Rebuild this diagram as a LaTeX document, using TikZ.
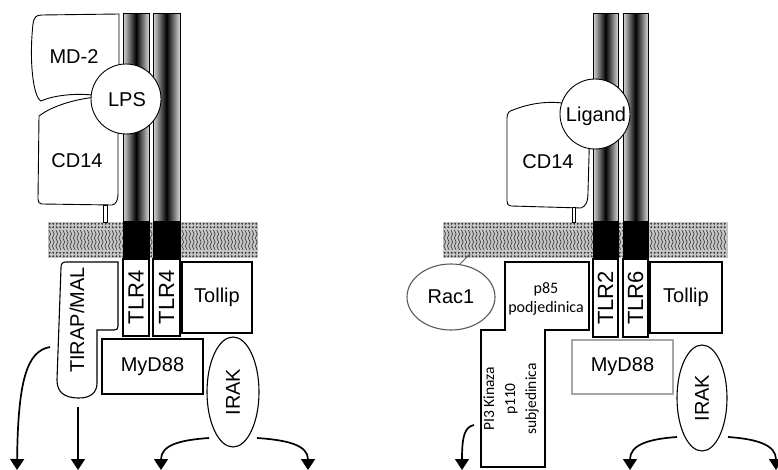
\documentclass[tikz,border=0pt]{standalone}
\usepackage{fontspec}
\setmainfont{Liberation Sans}
\newfontfamily\calib{Carlito}
\usetikzlibrary{shapes.geometric,arrows.meta}
\begin{document}
\begin{tikzpicture}[x=1pt,y=-1pt,
  lbl/.style={font=\fontsize{20}{24}\selectfont, inner sep=0pt},
  tlr/.style={font=\fontsize{22}{24}\selectfont, inner sep=0pt, rotate=90},
  box/.style={draw, line width=1.1pt, fill=white, rectangle, inner sep=0pt},
  graybox/.style={box, draw=gray!70},
  shp/.style={draw, line width=0.9pt, fill=white},
  col/.style={draw, line width=1pt, left color=gray!30, right color=gray!30, middle color=black},
  sig/.style={line width=1.7pt, -{Triangle[width=14pt,length=11pt]}},
  head/.style={draw=gray!25, line width=0.4pt, fill=black!80},
  tail/.style={draw=black!75, line width=0.7pt},
]
\useasboundingbox (0,0) rectangle (778,470);

% ---------- membranes ----------
\fill[gray!45] (48,222) rectangle (258,258);
\foreach \x in {49.75,53.25,...,257}{
  \draw[tail] plot[domain=230:250, samples=11, variable=\t] ({\x+0.9*sin(\t*45)}, \t);
  \foreach \y in {223.8,227.2,252.8,256.2}
    \draw[head] (\x,\y) circle (1.6);
}
\fill[gray!45] (443,222) rectangle (728,258);
\foreach \x in {444.75,448.25,...,727}{
  \draw[tail] plot[domain=230:250, samples=11, variable=\t] ({\x+0.9*sin(\t*45)}, \t);
  \foreach \y in {223.8,227.2,252.8,256.2}
    \draw[head] (\x,\y) circle (1.6);
}

% ---------- left panel ----------
% TLR4 columns
\draw[col] (123,14) rectangle (149,222);
\draw[col] (153,14) rectangle (180,222);
\draw[fill=black, line width=1pt] (123,222) rectangle (149,259);
\draw[fill=black, line width=1pt] (153,222) rectangle (180,259);
\node[box, minimum width=26pt, minimum height=77pt] (tlr4a) at (136,297.5) {};
\node[box, minimum width=27pt, minimum height=77pt] (tlr4b) at (166.5,297.5) {};
\node[tlr] (tlr4at) at (tlr4a) {TLR4};
\node[tlr] (tlr4bt) at (tlr4b) {TLR4};

% MD-2
\draw[shp] (92,95) .. controls (72,93) and (52,96) .. (41,101)
  .. controls (33,97) and (29,60) .. (33,24)
  .. controls (34,17) and (36,15) .. (42,15) -- (119,14) -- (119,85) -- cycle;
% CD14
\draw[shp] (39,116) .. controls (52,106) and (75,99) .. (97,97) -- (118,105)
  -- (118,193) .. controls (118,201) and (116,204) .. (112,205)
  -- (42,204) .. controls (39,204) and (38,202) .. (38,199) -- cycle;
\draw[shp, line width=0.8pt] (103,205) rectangle (107,222);
% LPS
\node[shp, circle, minimum size=70pt, inner sep=0pt] (lps) at (126,99) {};
\node[lbl] (lpst) at (127,100) {LPS};
\node[lbl] (md2) at (74,57) {MD-2};
\node[lbl] (cd14a) at (77,161) {CD14};

% TIRAP/MAL
\draw[shp, line width=1.1pt] (61,268) .. controls (61,264) and (62,262) .. (66,262) -- (118,262) -- (118,326)
  .. controls (118,329) and (117,330) .. (114,330) -- (97,330) -- (97,383)
  .. controls (97,393) and (90,398) .. (79,398) .. controls (64,398) and (57,392) .. (57,380) -- cycle;
\node[lbl, rotate=90] (tirap) at (77,320) {TIRAP/MAL};

% Tollip, MyD88, IRAK
\node[box, minimum width=70pt, minimum height=71pt] (tollipa) at (217,297.5) {};
\node[lbl] at (tollipa) {Tollip};
\node[box, minimum width=101pt, minimum height=55pt] (myd88a) at (152.5,366.5) {};
\node[lbl] at (myd88a) {MyD88};
\node[shp, ellipse, line width=1.1pt, minimum width=52pt, minimum height=110pt, inner sep=0pt] (iraka) at (233,392) {};
\node[lbl, rotate=90] (irakat) at (iraka) {IRAK};

% arrows left
\coordinate (a1s) at (50,347);  \coordinate (a1e) at (17,470);
\coordinate (a2s) at (78,407);  \coordinate (a2e) at (78,470);
\coordinate (a3s) at (209,438); \coordinate (a3e) at (161,470);
\coordinate (a4s) at (257,438); \coordinate (a4e) at (308,470);
\draw[sig] (a1s) .. controls (27,351) and (18,380) .. (a1e);
\draw[sig] (a2s) -- (a2e);
\draw[sig] (a3s) .. controls (180,440) and (161,445) .. (a3e);
\draw[sig] (a4s) .. controls (287,440) and (308,445) .. (a4e);

% ---------- right panel ----------
\draw[col] (593,14) rectangle (618,222);
\draw[col] (623,14) rectangle (648,222);
\draw[fill=black, line width=1pt] (593,222) rectangle (618,259);
\draw[fill=black, line width=1pt] (623,222) rectangle (648,259);
\node[box, minimum width=25pt, minimum height=78pt] (tlr2) at (605.5,298) {};
\node[box, minimum width=25pt, minimum height=78pt] (tlr6) at (635.5,298) {};
\node[tlr] (tlr2t) at (tlr2) {TLR2};
\node[tlr] (tlr6t) at (tlr6) {TLR6};

% CD14 right
\draw[shp] (507,118) .. controls (507,113) and (509,111) .. (513,110)
  .. controls (528,104) and (545,101) .. (562,103) -- (590,120)
  -- (588,192) .. controls (588,202) and (586,206) .. (581,208)
  -- (511,206) .. controls (508,206) and (507,204) .. (507,201) -- cycle;
\draw[shp, line width=0.8pt] (572,207) rectangle (575,222);
\node[shp, circle, minimum size=70pt, inner sep=0pt] (lig) at (595,114) {};
\node[lbl] (ligt) at (596,116) {Ligand};
\node[lbl] (cd14b) at (548,162) {CD14};

% Rac1
\node[shp, ellipse, draw=black!65, line width=1.1pt, minimum width=88pt, minimum height=66pt, inner sep=0pt] (rac) at (451,297) {};
\node[lbl] (ract) at (rac) {Rac1};
\coordinate (racm) at (470,254);
\draw[line width=0.9pt, black!65] (rac.75) -- (racm);

% PI3 kinase
\draw[shp, line width=1.1pt] (505,262) -- (589,262) -- (589,330) -- (545,330) -- (545,467)
  -- (481,467) -- (481,330) -- (505,330) -- cycle;
\node[inner sep=0pt, align=center, font=\calib\fontsize{16}{19}\selectfont] (p85) at (546,299) {p85\\podjedinica};
\node[inner sep=0pt, align=center, rotate=90, font=\calib\fontsize{15.5}{21}\selectfont] (p110) at (511,399) {PI3 Kinaza\\p110\\subjedinica};

% Tollip, MyD88, IRAK right
\node[box, minimum width=72pt, minimum height=71pt] (tollipb) at (686,297.5) {};
\node[lbl] at (tollipb) {Tollip};
\node[graybox, minimum width=101pt, minimum height=54pt] (myd88b) at (622.5,367) {};
\node[lbl] at (myd88b) {MyD88};
\node[shp, ellipse, line width=1.1pt, minimum width=50pt, minimum height=106pt, inner sep=0pt] (irakb) at (702,398) {};
\node[lbl, rotate=90] (irakbt) at (irakb) {IRAK};

% arrows right
\coordinate (b1s) at (474,425); \coordinate (b1e) at (462,470);
\coordinate (b2s) at (677,437); \coordinate (b2e) at (630,470);
\coordinate (b3s) at (728,437); \coordinate (b3e) at (776,470);
\draw[sig] (b1s) .. controls (465,427) and (462,435) .. (b1e);
\draw[sig] (b2s) .. controls (648,439) and (630,445) .. (b2e);
\draw[sig] (b3s) .. controls (757,439) and (776,445) .. (b3e);
\end{tikzpicture}
\end{document}
